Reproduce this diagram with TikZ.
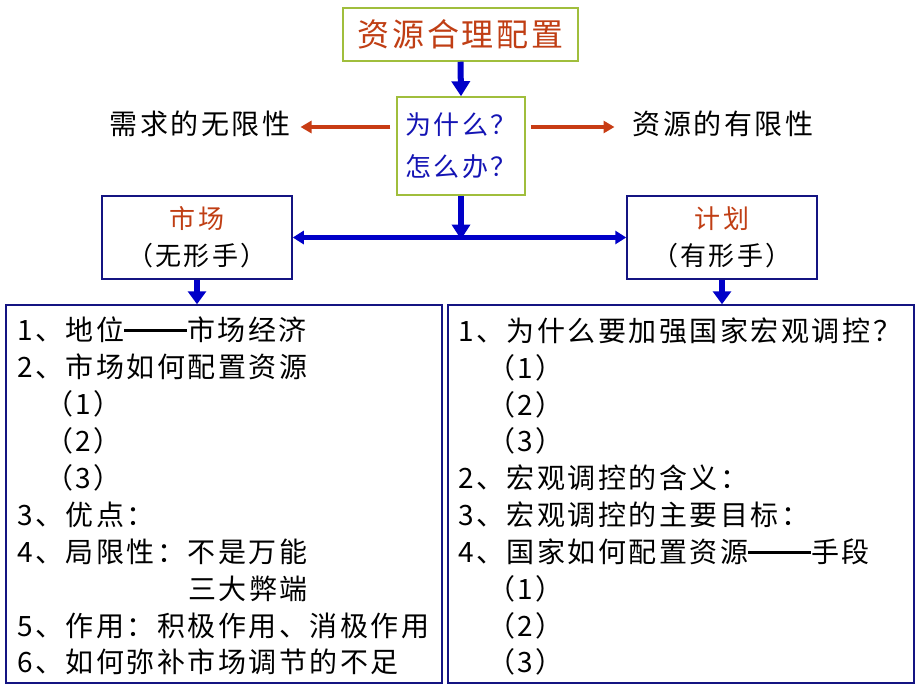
\documentclass[tikz,border=0pt]{standalone}
\usepackage{fontspec}
\setmainfont[LetterSpace=9]{Noto Sans CJK SC}
\usetikzlibrary{arrows.meta}
\definecolor{rust}{RGB}{192,62,20}
\definecolor{arrowred}{RGB}{200,60,20}
\definecolor{arrowblue}{RGB}{0,0,200}
\definecolor{txtblue}{RGB}{20,20,180}
\definecolor{olivebox}{RGB}{160,190,60}
\definecolor{navybox}{RGB}{20,20,130}
\newcommand\mydash{\rule[0.32em]{2.25em}{2.4pt}}
\tikzset{
  topbox/.style={draw=olivebox, line width=1.5pt, inner sep=0pt},
  navbox/.style={draw=navybox, line width=1.5pt, inner sep=0pt},
  bluearrow/.style={draw=arrowblue, line width=6pt, -{Triangle[length=15pt,width=18pt]}},
  hbluearrow/.style={draw=arrowblue, line width=4.5pt, {Triangle[length=11pt,width=13pt]}-{Triangle[length=11pt,width=13pt]}},
  redarrow/.style={draw=arrowred, line width=3.5pt, -{Triangle[length=11pt,width=12pt]}},
  item/.style={anchor=west, inner sep=0pt, font=\fontsize{28}{30}\selectfont},
  sidelabel/.style={inner sep=0pt, font=\fontsize{28}{30}\selectfont}
}
\begin{document}
\begin{tikzpicture}[x=1pt,y=-1pt]
\useasboundingbox (0,0) rectangle (920,690);
\fill[white] (0,0) rectangle (920,690);

% top boxes
\node[topbox, minimum width=235pt, minimum height=53pt, text=rust,
      font=\fontsize{32}{34}\selectfont] (title) at (460.5,34.5) {资源合理配置};
\node[topbox, minimum width=128pt, minimum height=98pt, text=txtblue, align=center,
      font=\fontsize{26}{42}\selectfont] (why) at (461,146) {为什么？\\怎么办？};

\node[sidelabel] (need) at (200,124) {需求的无限性};
\node[sidelabel] (limit) at (723,124) {资源的有限性};

\draw[bluearrow] (title.south) -- (why.north);
\draw[redarrow] (why.west |- 0,127) ++(-6,0) coordinate (rl0) -- ([xshift=10pt]need.east |- 0,127) coordinate (rl1);
\draw[redarrow] (why.east |- 0,127) ++(5,0) coordinate (rr0) -- ([xshift=-18pt]limit.west |- 0,127) coordinate (rr1);

% market / plan boxes
\node[navbox, minimum width=190pt, minimum height=83pt, align=center,
      font=\fontsize{26}{37}\selectfont] (market) at (197,237.5)
      {\textcolor{rust}{市场}\\（无形手）};
\node[navbox, minimum width=190pt, minimum height=83pt, align=center,
      font=\fontsize{26}{37}\selectfont] (plan) at (722,237.5)
      {\textcolor{rust}{计划}\\（有形手）};

\draw[hbluearrow] (market.east) -- (plan.west);
\coordinate (mid) at (why.south |- market.east);
\draw[bluearrow] (why.south) -- ([yshift=-2pt]mid);

% list boxes
\node[navbox, minimum width=436pt, minimum height=378pt] (lbox) at (224,494) {};
\node[navbox, minimum width=466pt, minimum height=378pt] (rbox) at (681,494) {};

\draw[bluearrow, line width=6pt, -{Triangle[length=13pt,width=18pt]}] (market.south) -- (lbox.north -| market.south);
\draw[bluearrow, line width=6pt, -{Triangle[length=13pt,width=18pt]}] (plan.south) -- (rbox.north -| plan.south);

% left list
\node[item] (l1) at (17,330) {1、地位\mydash 市场经济};
\node[item] (l2) at (17,367) {2、市场如何配置资源};
\node[item] (l3) at (45,404) {（1）};
\node[item] (l4) at (45,441) {（2）};
\node[item] (l5) at (45,478) {（3）};
\node[item] (l6) at (17,515) {3、优点：};
\node[item] (l7) at (17,552) {4、局限性：不是万能};
\node[item] (l8) at (188,589) {三大弊端};
\node[item] (l9) at (17,626) {5、作用：积极作用、消极作用};
\node[item] (l10) at (17,662) {6、如何弥补市场调节的不足};

% right list
\node[item] (r1) at (458,331) {1、为什么要加强国家宏观调控？};
\node[item] (r2) at (487,368) {（1）};
\node[item] (r3) at (487,405) {（2）};
\node[item] (r4) at (487,441) {（3）};
\node[item] (r5) at (458,478) {2、宏观调控的含义：};
\node[item] (r6) at (458,515) {3、宏观调控的主要目标：};
\node[item] (r7) at (458,552) {4、国家如何配置资源\mydash 手段};
\node[item] (r8) at (487,589) {（1）};
\node[item] (r9) at (487,626) {（2）};
\node[item] (r10) at (487,662) {（3）};
\end{tikzpicture}
\end{document}
